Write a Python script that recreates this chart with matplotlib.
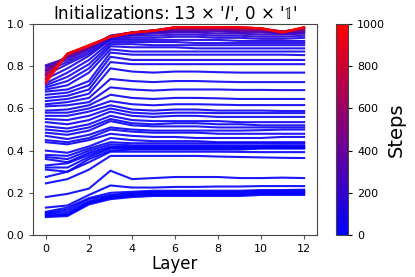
import numpy as np
import matplotlib
matplotlib.use("Agg")
import matplotlib.pyplot as plt
from matplotlib.colors import LinearSegmentedColormap, Normalize
from matplotlib.cm import ScalarMappable

layers = list(range(13))

bottom_lines = [
    [0.085,0.09,0.145,0.17,0.18,0.185,0.185,0.185,0.185,0.185,0.19,0.19,0.19],
    [0.09,0.095,0.15,0.175,0.185,0.19,0.19,0.19,0.19,0.19,0.195,0.195,0.195],
    [0.095,0.10,0.155,0.18,0.19,0.195,0.195,0.195,0.195,0.195,0.2,0.2,0.2],
    [0.10,0.11,0.16,0.185,0.195,0.20,0.20,0.20,0.20,0.20,0.205,0.205,0.205],
    [0.105,0.12,0.17,0.19,0.20,0.205,0.205,0.205,0.205,0.205,0.21,0.21,0.21],
    [0.11,0.13,0.175,0.20,0.205,0.21,0.21,0.21,0.21,0.21,0.213,0.213,0.215],
    [0.13,0.14,0.19,0.235,0.225,0.225,0.228,0.228,0.23,0.23,0.232,0.232,0.232],
    [0.18,0.195,0.22,0.305,0.265,0.27,0.275,0.275,0.275,0.27,0.27,0.272,0.27],
]
low_mid_lines = [
    [0.245,0.265,0.31,0.375,0.375,0.375,0.375,0.375,0.372,0.37,0.368,0.366,0.365],
    [0.275,0.30,0.345,0.395,0.395,0.395,0.395,0.395,0.395,0.394,0.393,0.393,0.393],
    [0.31,0.30,0.36,0.40,0.405,0.405,0.405,0.405,0.405,0.405,0.41,0.41,0.41],
    [0.32,0.32,0.37,0.41,0.41,0.41,0.41,0.41,0.41,0.41,0.412,0.412,0.412],
    [0.33,0.34,0.38,0.415,0.415,0.415,0.415,0.415,0.415,0.415,0.416,0.417,0.417],
    [0.36,0.345,0.39,0.42,0.42,0.42,0.42,0.42,0.42,0.42,0.42,0.42,0.42],
    [0.37,0.36,0.40,0.43,0.425,0.425,0.425,0.425,0.425,0.425,0.425,0.426,0.426],
    [0.38,0.375,0.41,0.44,0.435,0.435,0.435,0.435,0.435,0.435,0.435,0.436,0.436],
]
mid_lines = [
    [0.40,0.39,0.42,0.46,0.45,0.445,0.445,0.445,0.44,0.44,0.44,0.44,0.44],
    [0.44,0.43,0.45,0.48,0.47,0.465,0.465,0.46,0.46,0.46,0.46,0.465,0.465],
    [0.45,0.44,0.46,0.50,0.49,0.485,0.485,0.485,0.48,0.48,0.48,0.48,0.48],
    [0.47,0.455,0.475,0.51,0.50,0.495,0.495,0.495,0.495,0.495,0.497,0.50,0.50],
    [0.485,0.475,0.495,0.54,0.52,0.515,0.515,0.515,0.51,0.51,0.51,0.51,0.51],
    [0.50,0.49,0.51,0.55,0.53,0.525,0.53,0.53,0.525,0.525,0.52,0.52,0.52],
    [0.515,0.505,0.525,0.565,0.545,0.54,0.54,0.54,0.54,0.535,0.535,0.535,0.535],
    [0.535,0.525,0.545,0.585,0.565,0.56,0.565,0.565,0.56,0.56,0.56,0.56,0.56],
    [0.55,0.545,0.565,0.60,0.58,0.575,0.58,0.58,0.578,0.578,0.578,0.578,0.578],
    [0.565,0.565,0.585,0.615,0.595,0.59,0.595,0.595,0.59,0.59,0.59,0.588,0.588],
    [0.58,0.58,0.60,0.635,0.62,0.615,0.62,0.62,0.618,0.616,0.616,0.616,0.616],
    [0.59,0.595,0.615,0.665,0.65,0.645,0.65,0.65,0.648,0.645,0.645,0.645,0.645],
    [0.61,0.615,0.63,0.70,0.69,0.685,0.69,0.69,0.69,0.688,0.688,0.687,0.687],
    [0.62,0.63,0.65,0.74,0.73,0.725,0.73,0.73,0.727,0.725,0.725,0.725,0.725],
    [0.635,0.645,0.67,0.79,0.775,0.77,0.775,0.775,0.772,0.77,0.77,0.77,0.77],
    [0.65,0.66,0.69,0.82,0.81,0.81,0.81,0.81,0.81,0.81,0.81,0.81,0.81],
    [0.665,0.675,0.71,0.845,0.83,0.83,0.83,0.83,0.83,0.83,0.83,0.83,0.83],
    [0.68,0.69,0.73,0.865,0.855,0.855,0.855,0.855,0.855,0.855,0.855,0.855,0.853],
]
top_lines = [
    [0.69,0.71,0.77,0.88,0.87,0.87,0.87,0.87,0.87,0.87,0.87,0.87,0.87],
    [0.70,0.73,0.79,0.895,0.89,0.89,0.89,0.885,0.885,0.885,0.885,0.885,0.885],
    [0.71,0.75,0.81,0.905,0.905,0.90,0.90,0.90,0.90,0.90,0.90,0.90,0.90],
    [0.72,0.77,0.83,0.915,0.915,0.915,0.915,0.91,0.91,0.91,0.91,0.91,0.91],
    [0.74,0.79,0.85,0.925,0.925,0.925,0.925,0.925,0.925,0.92,0.92,0.92,0.92],
    [0.76,0.81,0.86,0.93,0.935,0.935,0.94,0.94,0.935,0.935,0.93,0.93,0.935],
    [0.78,0.82,0.87,0.935,0.945,0.945,0.95,0.95,0.945,0.945,0.94,0.94,0.945],
    [0.80,0.83,0.88,0.94,0.95,0.955,0.96,0.96,0.955,0.955,0.95,0.95,0.955],
    [0.805,0.84,0.885,0.94,0.955,0.96,0.965,0.965,0.965,0.96,0.96,0.955,0.96],
    [0.79,0.845,0.89,0.945,0.96,0.965,0.97,0.97,0.97,0.965,0.965,0.96,0.965],
    [0.78,0.85,0.89,0.945,0.96,0.97,0.975,0.975,0.975,0.97,0.97,0.965,0.97],
    [0.77,0.85,0.895,0.94,0.96,0.97,0.98,0.98,0.98,0.975,0.975,0.965,0.975],
    [0.76,0.855,0.895,0.94,0.96,0.97,0.98,0.98,0.98,0.98,0.975,0.965,0.98],
    [0.75,0.855,0.895,0.94,0.96,0.97,0.985,0.985,0.985,0.98,0.98,0.965,0.98],
    [0.74,0.86,0.895,0.94,0.96,0.97,0.985,0.985,0.985,0.985,0.98,0.962,0.985],
    [0.73,0.86,0.90,0.94,0.96,0.968,0.985,0.985,0.985,0.985,0.98,0.96,0.985],
    [0.72,0.86,0.90,0.94,0.96,0.968,0.985,0.985,0.985,0.985,0.98,0.96,0.985],
]
bottom_steps = [0, 1, 2, 3, 4, 5, 6, 8]
low_mid_steps = [10, 12, 14, 15, 16, 18, 20, 22]
mid_steps = [24, 26, 28, 30, 32, 34, 36, 38, 40, 42, 44, 46, 48, 50, 52, 54, 56, 58]
top_steps = [60, 70, 80, 90, 100, 120, 150, 200, 250, 300, 400, 500, 600, 700, 800, 900, 1000]

all_lines = bottom_lines + low_mid_lines + mid_lines + top_lines
all_steps = bottom_steps + low_mid_steps + mid_steps + top_steps

cmap = LinearSegmentedColormap.from_list("br", ["#0000ff", "#ff0000"])
norm = Normalize(vmin=0, vmax=1000)

fig = plt.figure(figsize=(4.15, 2.77), dpi=100)
ax = fig.add_axes([0.0795, 0.1516, 0.6845, 0.7614])
order = np.argsort(all_steps, kind="stable")
for i in order:
    ax.plot(layers, all_lines[i], color=cmap(norm(all_steps[i])), lw=1.5, alpha=0.9)

ax.set_ylim(0, 1.0)
ax.set_xticks([0, 2, 4, 6, 8, 10, 12])
ax.set_yticks([0.0, 0.2, 0.4, 0.6, 0.8, 1.0])
ax.tick_params(labelsize=8, length=3, color="#555555")
for s in ax.spines.values():
    s.set_color("#444444")
ax.set_xlabel("Layer", fontsize=12, labelpad=1)
ax.set_title("Initializations: 13 \u00d7 '$\\mathit{I}$', 0 \u00d7 '$\\mathbb{1}$'", fontsize=12, pad=4)

cax = fig.add_axes([0.81, 0.1516, 0.029, 0.7614])
sm = ScalarMappable(norm=norm, cmap=cmap)
cb = fig.colorbar(sm, cax=cax, ticks=[0, 200, 400, 600, 800, 1000])
cb.ax.tick_params(labelsize=8, length=3)
cb.outline.set_edgecolor("#444444")
cb.set_label("Steps", fontsize=14, labelpad=1)

fig.savefig("out.png", dpi=100)
